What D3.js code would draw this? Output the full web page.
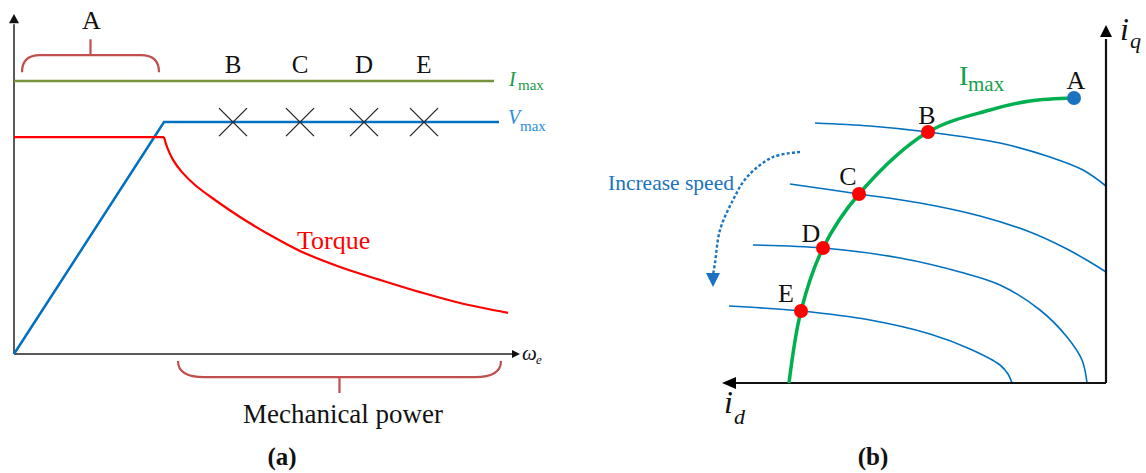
<!DOCTYPE html>
<html><head><meta charset="utf-8">
<script src="https://cdn.jsdelivr.net/npm/d3@7"></script>
<style>
html,body{margin:0;padding:0;background:#fff;}
svg{display:block;}
</style></head><body>
<svg id="fig" width="1146" height="473"></svg>
<script>
// ---------- (a) operating envelope versus electrical speed ----------
const envelopeNames = ["Imax", "Vmax"];
const envelopeLevels = [80.3, 68.2];          // current and voltage limits
const envelopeEnds = [96, 97];                // speed where each limit line stops
const baseSpeed = 30;                         // corner of the voltage ramp
const opLabels = ["B", "C", "D", "E"];
const opSpeeds = [43.8, 57.2, 70, 82];        // operating speeds on the voltage limit
const torqueSpeed = [0, 30, 30.6, 31.8, 33.6, 36.2, 40.2, 45.2, 51.2, 57.2, 65.2, 73.2, 81.2, 89.2, 98.8];
const torqueValue = [63.8, 63.8, 60.9, 57.1, 53.5, 49.7, 45.3, 40.3, 35.0, 30.3, 25.6, 21.8, 18.2, 15.0, 12.1];

// ---------- (b) id-iq current plane ----------
const pointLabels = ["A", "B", "C", "D", "E"];
const pointId = [-8, -44.5, -61.75, -70.75, -76.25];
const pointIq = [71.25, 62.75, 47.25, 33.75, 18];
const imaxId = [-8, -19, -29, -44.5, -61.75, -70.75, -76.25, -79.25];
const imaxIq = [71.25, 70.5, 68.25, 62.75, 47.25, 33.75, 18, 0];
const vlim1Id = [-72.75, -59, -44.5, -26.5, -14, -5.75, 0];
const vlim1Iq = [65, 64.25, 62.75, 60, 56.5, 53.25, 49.25];
const vlim2Id = [-79, -61.75, -46.5, -31.5, -19, -10.25, -4, 0];
const vlim2Iq = [49.75, 47.25, 45, 41.75, 37.75, 33.75, 30.25, 27.75];
const vlim3Id = [-88.25, -70.75, -51.5, -36.5, -26.5, -16.5, -9.75, -6, -4.75];
const vlim3Iq = [34.5, 33.75, 31.25, 27.75, 24.5, 18.25, 11.5, 5.75, 0];
const vlim4Id = [-94.25, -76.25, -59, -44, -34, -26.5, -24.5, -23.5];
const vlim4Iq = [19.25, 18, 15.75, 12.25, 8.5, 4.5, 2.25, 0];
const speedArrowId = [-76.5, -83.25, -89.75, -93.25, -96.5, -97.75, -98.25];
const speedArrowIq = [57.75, 56.5, 51.5, 45.75, 38.25, 30, 27];

const SERIF = "\"Liberation Serif\", \"Times New Roman\", Times, serif";
const svg = d3.select("#fig");
const zip = (a, b) => a.map((v, i) => [v, b[i]]);

// text helper: serif face set inline on every label
function label(g, x, y, size, fill, str, opts = {}) {
  const t = g.append("text").attr("x", x).attr("y", y).attr("fill", fill)
    .style("font-family", SERIF).style("font-size", size + "px").text(str);
  if (opts.anchor) t.attr("text-anchor", opts.anchor);
  if (opts.italic) t.style("font-style", "italic");
  if (opts.bold) t.style("font-weight", "bold");
  return t;
}

// ================= panel (a) =================
const xL = d3.scaleLinear().domain([0, 100]).range([14, 514]);
const yL = d3.scaleLinear().domain([0, 100]).range([354, 14]);
const gA = svg.append("g");

// axes
gA.append("line").attr("x1", xL(0)).attr("y1", yL(0)).attr("x2", xL(0)).attr("y2", yL(97))
  .attr("stroke", "#595959").attr("stroke-width", 2);
gA.append("line").attr("x1", xL(0)).attr("y1", yL(0)).attr("x2", xL(99.6)).attr("y2", yL(0))
  .attr("stroke", "#595959").attr("stroke-width", 2);
gA.append("path").attr("d", `M${xL(0)},${yL(100)} L${xL(0) - 5},${yL(97.3)} L${xL(0) + 5},${yL(97.3)} Z`).attr("fill", "#111");
gA.append("path").attr("d", `M${xL(101.2)},${yL(0)} L${xL(99.6)},${yL(0) - 4} L${xL(99.6)},${yL(0) + 4} Z`).attr("fill", "#111");

const lineL = d3.line().x(d => xL(d[0])).y(d => yL(d[1]));

// current limit
gA.append("path").attr("d", lineL([[0, envelopeLevels[0]], [envelopeEnds[0], envelopeLevels[0]]]))
  .attr("fill", "none").attr("stroke", "#77933c").attr("stroke-width", 2.5);
// voltage ramp and limit
gA.append("path").attr("d", lineL([[0, 0], [baseSpeed, envelopeLevels[1]], [envelopeEnds[1], envelopeLevels[1]]]))
  .attr("fill", "none").attr("stroke", "#0070c0").attr("stroke-width", 2.5);
// torque: constant region, then falling with speed
const torquePts = zip(torqueSpeed, torqueValue);
gA.append("path").attr("d", lineL(torquePts.slice(0, 2)))
  .attr("fill", "none").attr("stroke", "#ff0000").attr("stroke-width", 2.2);
gA.append("path").attr("d", d3.line().x(d => xL(d[0])).y(d => yL(d[1])).curve(d3.curveCatmullRom.alpha(0.5))(torquePts.slice(1)))
  .attr("fill", "none").attr("stroke", "#ff0000").attr("stroke-width", 2.2);

// operating points on the voltage limit
opSpeeds.forEach((s, i) => {
  const cx = xL(s), cy = yL(envelopeLevels[1]);
  gA.append("path").attr("d", `M${cx - 14},${cy - 14} L${cx + 14},${cy + 14} M${cx - 14},${cy + 14} L${cx + 14},${cy - 14}`)
    .attr("stroke", "#222").attr("stroke-width", 1.3);
  label(gA, cx, 73, 25, "#111", opLabels[i], { anchor: "middle" });
});

// braces
function braceUp(x0, x1, yEnd, yTop, yTick, r) {
  const xm = (x0 + x1) / 2;
  return `M${x0},${yEnd} Q${x0},${yTop} ${x0 + r},${yTop} L${x1 - r},${yTop} Q${x1},${yTop} ${x1},${yEnd} M${xm},${yTop} L${xm},${yTick}`;
}
gA.append("path").attr("d", braceUp(xL(1.6), xL(29), yL(82.9), yL(87.9), yL(92.6), 18))
  .attr("fill", "none").attr("stroke", "#c0504d").attr("stroke-width", 2.2);
label(gA, xL(15.3) + 1, 29, 26, "#111", "A", { anchor: "middle" });
gA.append("path").attr("d", braceUp(xL(32.8), xL(97.4), yL(-2.06), yL(-6.8), yL(-11.5), 26))
  .attr("fill", "none").attr("stroke", "#c0504d").attr("stroke-width", 2.2);
label(gA, 343, 423, 27, "#111", "Mechanical power", { anchor: "middle" });

// line labels
label(gA, 509, 86, 20, "#179a4b", "I", { italic: true });
label(gA, 518, 90, 15, "#179a4b", "max");
label(gA, 508, 124, 20, "#2a8ce0", "V", { italic: true });
label(gA, 520, 131, 15, "#2a8ce0", "max");
label(gA, 297, 249, 26, "#ff0000", "Torque");
label(gA, 522, 360, 21, "#111", "ω", { italic: true });
label(gA, 536, 364, 13, "#111", "e", { italic: true });
label(gA, 282, 465, 25, "#111", "(a)", { anchor: "middle", bold: true });

// ================= panel (b) =================
const xR = d3.scaleLinear().domain([-100, 0]).range([706, 1106]);
const yR = d3.scaleLinear().domain([0, 90]).range([383, 23]);
const gB = svg.append("g");
const smooth = d3.line().x(d => xR(d[0])).y(d => yR(d[1])).curve(d3.curveCatmullRom.alpha(0.5));

// voltage limit curves
[[vlim1Id, vlim1Iq], [vlim2Id, vlim2Iq], [vlim3Id, vlim3Iq], [vlim4Id, vlim4Iq]].forEach(([a, b]) => {
  gB.append("path").attr("d", smooth(zip(a, b))).attr("fill", "none")
    .attr("stroke", "#0070c0").attr("stroke-width", 1.6);
});

// axes
gB.append("line").attr("x1", xR(0)).attr("y1", yR(0)).attr("x2", xR(-93)).attr("y2", yR(0))
  .attr("stroke", "#111").attr("stroke-width", 2.2);
gB.append("line").attr("x1", xR(0)).attr("y1", yR(0)).attr("x2", xR(0)).attr("y2", yR(86))
  .attr("stroke", "#111").attr("stroke-width", 2.2);
gB.append("path").attr("d", `M${xR(-96)},${yR(0)} L${xR(-92.5)},${yR(0) - 6} L${xR(-92.5)},${yR(0) + 6} Z`).attr("fill", "#000");
gB.append("path").attr("d", `M${xR(0)},${yR(89.5)} L${xR(0) - 6},${yR(86.5)} L${xR(0) + 6},${yR(86.5)} Z`).attr("fill", "#000");

// current limit arc
gB.append("path").attr("d", smooth(zip(imaxId, imaxIq))).attr("fill", "none")
  .attr("stroke", "#00b050").attr("stroke-width", 3.5);

// speed direction arrow
gB.append("path").attr("d", smooth(zip(speedArrowId, speedArrowIq))).attr("fill", "none")
  .attr("stroke", "#1a72c0").attr("stroke-width", 2.4).attr("stroke-dasharray", "3,2.2");
{
  const tx = xR(-98.25), ty = yR(24);
  gB.append("path").attr("d", `M${tx},${ty} L${tx - 7},${ty - 14} L${tx + 7},${ty - 14} Z`).attr("fill", "#1a72c0");
}
label(gB, 608, 190, 21.5, "#1a72c0", "Increase speed");

// operating points
const labelDx = [2, -1, -11, -12, -15];
const labelBase = [89, 124, 185, 242, 302];
pointLabels.forEach((l, i) => {
  gB.append("circle").attr("cx", xR(pointId[i])).attr("cy", yR(pointIq[i])).attr("r", 7)
    .attr("fill", i === 0 ? "#1a72c0" : "#ff0000");
  label(gB, xR(pointId[i]) + labelDx[i], labelBase[i], 26, "#111", l, { anchor: "middle" });
});

// axis and limit labels
label(gB, 959, 85, 28, "#16a04a", "I");
label(gB, 968, 91, 21, "#16a04a", "max");
label(gB, 1120, 40, 32, "#111", "i", { italic: true });
label(gB, 1130, 48, 22, "#111", "q", { italic: true });
label(gB, 724, 413, 32, "#111", "i", { italic: true });
label(gB, 734, 424, 22, "#111", "d", { italic: true });
label(gB, 873, 465, 25, "#111", "(b)", { anchor: "middle", bold: true });
</script>
</body></html>
